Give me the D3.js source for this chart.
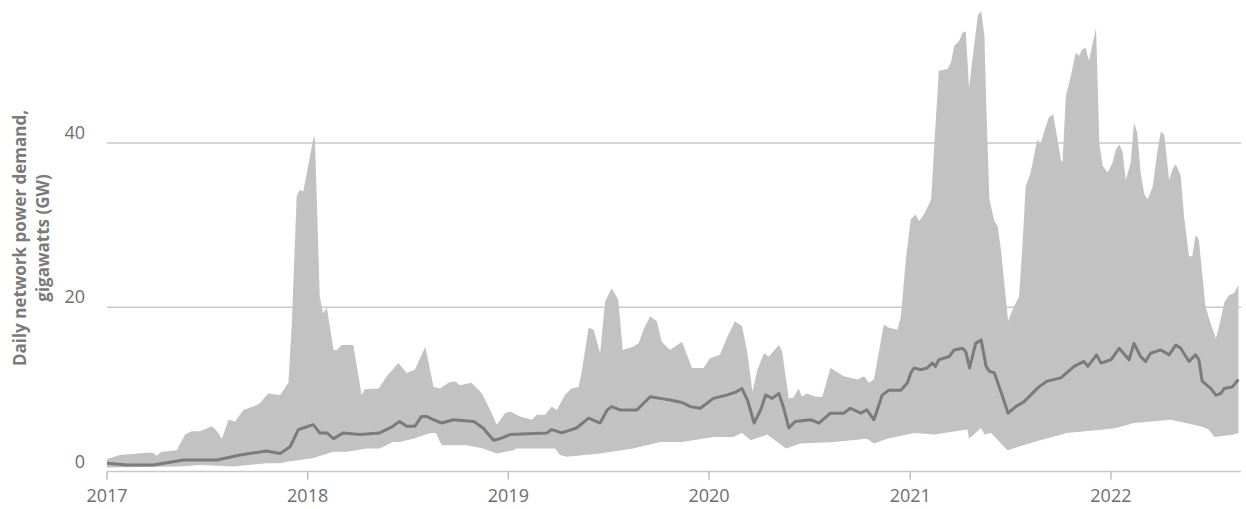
<!DOCTYPE html>
<html>
<head>
<meta charset="utf-8">
<script src="https://cdn.jsdelivr.net/npm/d3@7"></script>
<style>
  body { margin: 0; background: #fff; }
  svg { display: block; font-family: "Open Sans", sans-serif; }
</style>
</head>
<body>
<svg id="svg"></svg>
<script>
const width = 1246, height = 509;

// upper bound of the estimate, GW
const upperBound = [
  ["2017-01-01",1.5],["2017-01-24",2.0],["2017-03-20",2.3],["2017-03-29",2.2],["2017-04-01",1.9],
  ["2017-04-10",2.4],["2017-05-08",2.6],["2017-05-23",4.5],["2017-06-04",4.9],["2017-06-19",4.9],
  ["2017-07-11",5.5],["2017-07-20",4.9],["2017-07-29",4.0],["2017-08-10",6.3],["2017-08-22",6.1],
  ["2017-09-06",7.5],["2017-09-24",7.9],["2017-10-06",8.3],["2017-10-21",9.5],["2017-11-12",9.3],
  ["2017-11-27",10.8],["2017-12-03",17.7],["2017-12-12",33.5],["2017-12-18",34.3],["2017-12-24",34.1],
  ["2018-01-11",40.4],["2018-01-14",40.8],["2018-01-23",21.3],["2018-01-29",19.3],["2018-02-05",19.9],
  ["2018-02-17",14.8],["2018-02-23",14.8],["2018-03-04",15.4],["2018-03-25",15.4],["2018-04-09",9.3],
  ["2018-04-15",10.0],["2018-05-10",10.1],["2018-05-25",11.6],["2018-06-15",13.2],["2018-06-30",12.0],
  ["2018-07-15",12.4],["2018-08-03",15.2],["2018-08-18",10.3],["2018-08-30",10.1],["2018-09-14",10.8],
  ["2018-09-26",11.0],["2018-10-05",10.5],["2018-10-26",10.8],["2018-11-14",9.5],["2018-11-29",7.5],
  ["2018-12-11",5.7],["2018-12-26",7.1],["2019-01-04",7.3],["2019-01-22",6.7],["2019-02-13",6.3],
  ["2019-02-22",6.9],["2019-03-09",6.9],["2019-03-21",7.9],["2019-03-30",7.5],["2019-04-14",9.3],
  ["2019-04-26",10.1],["2019-05-09",10.3],["2019-05-15",12.4],["2019-05-27",17.5],["2019-06-05",17.3],
  ["2019-06-17",14.4],["2019-06-26",20.7],["2019-07-08",22.3],["2019-07-20",20.9],["2019-07-28",14.8],
  ["2019-08-16",15.2],["2019-08-26",15.6],["2019-09-04",17.3],["2019-09-16",18.9],["2019-09-28",18.3],
  ["2019-10-07",15.8],["2019-10-22",14.8],["2019-11-13",15.8],["2019-12-01",12.6],["2019-12-22",12.6],
  ["2020-01-03",13.8],["2020-01-21",14.2],["2020-02-02",16.2],["2020-02-17",18.3],["2020-03-01",17.7],
  ["2020-03-11",14.4],["2020-03-20",9.7],["2020-03-29",12.4],["2020-04-10",14.4],["2020-04-19",14.0],
  ["2020-05-07",15.4],["2020-05-13",14.6],["2020-05-25",8.9],["2020-06-03",9.0],["2020-06-12",10.1],
  ["2020-06-18",9.1],["2020-06-27",9.5],["2020-07-13",9.1],["2020-07-25",9.1],["2020-08-09",12.6],
  ["2020-09-02",11.6],["2020-09-27",11.2],["2020-10-09",11.6],["2020-10-18",10.8],["2020-10-27",11.2],
  ["2020-11-14",17.9],["2020-11-23",17.5],["2020-12-09",17.3],["2020-12-15",18.9],["2020-12-24",25.8],
  ["2021-01-02",30.7],["2021-01-11",31.3],["2021-01-17",30.5],["2021-01-26",31.3],["2021-02-08",33.1],
  ["2021-02-14",40.0],["2021-02-22",48.8],["2021-03-10",49.0],["2021-03-16",49.8],["2021-03-22",51.8],
  ["2021-03-31",52.4],["2021-04-06",53.4],["2021-04-12",53.6],["2021-04-18",46.7],["2021-04-27",51.8],
  ["2021-05-04",55.5],["2021-05-10",56.1],["2021-05-16",53.0],["2021-05-19",45.3],["2021-05-25",33.1],
  ["2021-06-03",30.5],["2021-06-09",29.9],["2021-06-15",27.0],["2021-06-21",23.0],["2021-06-28",18.3],
  ["2021-07-06",19.7],["2021-07-18",21.3],["2021-07-24",27.4],["2021-07-30",34.7],["2021-08-08",36.4],
  ["2021-08-20",40.4],["2021-08-26",40.0],["2021-09-01",41.2],["2021-09-10",43.1],["2021-09-18",43.5],
  ["2021-09-26",40.4],["2021-10-02",38.0],["2021-10-05",37.6],["2021-10-11",45.7],["2021-10-20",48.1],
  ["2021-10-29",51.0],["2021-11-04",50.6],["2021-11-10",51.4],["2021-11-16",51.6],["2021-11-22",50.0],
  ["2021-12-05",54.0],["2021-12-11",40.0],["2021-12-17",37.2],["2021-12-26",36.4],["2022-01-04",37.6],
  ["2022-01-10",39.2],["2022-01-16",39.8],["2022-01-22",39.0],["2022-01-28",35.5],["2022-02-06",37.6],
  ["2022-02-12",42.5],["2022-02-18",41.2],["2022-02-24",36.4],["2022-03-03",33.7],["2022-03-09",33.1],
  ["2022-03-18",34.7],["2022-03-27",39.2],["2022-04-02",41.4],["2022-04-08",41.0],["2022-04-17",35.5],
  ["2022-04-23",36.8],["2022-04-29",37.4],["2022-05-08",36.0],["2022-05-14",31.1],["2022-05-23",26.2],
  ["2022-05-29",26.2],["2022-06-04",28.8],["2022-06-10",28.2],["2022-06-16",24.2],["2022-06-22",20.1],
  ["2022-07-02",17.9],["2022-07-11",16.2],["2022-07-17",17.7],["2022-07-26",20.5],["2022-08-04",21.5],
  ["2022-08-13",21.7],["2022-08-21",22.7]
];

// lower bound of the estimate, GW
const lowerBound = [
  ["2017-01-01",0.5],["2017-05-14",0.6],["2017-06-19",0.8],["2017-08-18",0.6],["2017-10-18",1.0],
  ["2017-11-12",1.0],["2017-11-24",1.2],["2018-01-10",1.6],["2018-02-17",2.4],["2018-03-13",2.4],
  ["2018-04-18",2.8],["2018-05-12",2.8],["2018-06-05",3.6],["2018-06-17",3.6],["2018-07-12",4.0],
  ["2018-08-12",4.7],["2018-08-22",4.7],["2018-09-02",3.2],["2018-10-17",3.2],["2018-11-16",2.8],
  ["2018-12-11",2.2],["2019-01-10",2.6],["2019-01-16",2.8],["2019-03-27",2.8],["2019-04-05",2.0],
  ["2019-04-17",1.8],["2019-06-17",2.2],["2019-08-16",2.8],["2019-10-04",3.6],["2019-11-13",3.6],
  ["2020-01-09",4.2],["2020-02-14",4.2],["2020-03-01",4.7],["2020-03-17",3.8],["2020-04-16",4.5],
  ["2020-05-20",2.8],["2020-06-15",3.4],["2020-08-15",3.6],["2020-10-14",4.0],["2020-10-27",3.4],
  ["2020-11-20",4.0],["2021-01-08",4.7],["2021-02-14",4.5],["2021-04-15",5.1],["2021-04-18",4.0],
  ["2021-05-10",5.3],["2021-05-16",4.5],["2021-05-28",4.7],["2021-06-27",2.6],["2021-08-14",3.6],
  ["2021-10-13",4.7],["2021-12-19",5.1],["2022-01-10",5.3],["2022-02-12",5.9],["2022-04-20",6.3],
  ["2022-06-13",5.5],["2022-06-28",5.1],["2022-07-08",4.2],["2022-08-13",4.5],["2022-08-21",4.7]
];

// central estimate, GW
const centralEstimate = [
  ["2017-01-01",1.0],["2017-02-06",0.8],["2017-03-26",0.8],["2017-05-20",1.4],["2017-07-20",1.4],
  ["2017-08-31",2.0],["2017-10-18",2.5],["2017-11-12",2.2],["2017-11-30",3.0],["2017-12-15",5.1],
  ["2017-12-24",5.3],["2018-01-11",5.7],["2018-01-23",4.7],["2018-02-05",4.7],["2018-02-17",4.0],
  ["2018-03-07",4.7],["2018-04-06",4.5],["2018-05-12",4.7],["2018-06-05",5.5],["2018-06-17",6.1],
  ["2018-06-30",5.5],["2018-07-15",5.5],["2018-07-27",6.7],["2018-08-05",6.7],["2018-08-18",6.3],
  ["2018-09-02",5.9],["2018-09-23",6.3],["2018-10-30",6.1],["2018-11-16",5.3],["2018-12-05",3.8],
  ["2018-12-17",4.0],["2019-01-04",4.5],["2019-03-12",4.7],["2019-03-21",5.1],["2019-04-08",4.7],
  ["2019-05-05",5.3],["2019-05-27",6.5],["2019-06-17",5.9],["2019-06-30",7.5],["2019-07-08",7.9],
  ["2019-07-23",7.5],["2019-08-23",7.5],["2019-09-16",9.1],["2019-10-04",8.9],["2019-10-22",8.7],
  ["2019-11-13",8.4],["2019-11-28",7.9],["2019-12-16",7.7],["2020-01-09",8.9],["2020-02-02",9.3],
  ["2020-02-20",9.7],["2020-03-01",10.1],["2020-03-11",8.7],["2020-03-23",5.9],["2020-04-04",7.5],
  ["2020-04-13",9.3],["2020-04-25",8.9],["2020-05-07",9.5],["2020-05-16",7.7],["2020-05-25",5.3],
  ["2020-06-06",6.1],["2020-07-04",6.3],["2020-07-19",5.9],["2020-08-09",7.1],["2020-09-02",7.1],
  ["2020-09-14",7.7],["2020-10-03",7.1],["2020-10-14",7.5],["2020-10-27",6.3],["2020-11-11",9.3],
  ["2020-11-23",9.9],["2020-12-15",9.9],["2020-12-27",10.8],["2021-01-02",12.0],["2021-01-08",12.6],
  ["2021-01-20",12.4],["2021-02-01",12.6],["2021-02-10",13.2],["2021-02-16",12.8],["2021-02-22",13.6],
  ["2021-03-13",14.0],["2021-03-22",14.8],["2021-04-06",15.0],["2021-04-12",14.6],["2021-04-19",12.6],
  ["2021-04-30",15.6],["2021-05-10",16.0],["2021-05-19",12.8],["2021-05-25",12.2],["2021-06-03",12.0],
  ["2021-06-15",9.7],["2021-06-28",7.1],["2021-07-12",7.9],["2021-07-27",8.5],["2021-08-08",9.3],
  ["2021-08-23",10.3],["2021-09-07",11.0],["2021-10-02",11.4],["2021-10-26",12.8],["2021-11-13",13.4],
  ["2021-11-20",12.8],["2021-12-06",14.2],["2021-12-14",13.2],["2022-01-01",13.6],["2022-01-16",15.0],
  ["2022-02-03",13.6],["2022-02-12",15.6],["2022-02-24",14.0],["2022-03-05",13.4],["2022-03-14",14.4],
  ["2022-04-02",14.8],["2022-04-17",14.2],["2022-04-29",15.4],["2022-05-08",15.0],["2022-05-23",13.4],
  ["2022-06-04",14.2],["2022-06-10",13.6],["2022-06-16",11.0],["2022-07-02",10.1],["2022-07-11",9.3],
  ["2022-07-20",9.5],["2022-07-26",10.1],["2022-08-10",10.3],["2022-08-21",11.2]
];

const yTicks = [0, 20, 40];
const yearTicks = ["2017", "2018", "2019", "2020", "2021", "2022"];
const yTitle = ["Daily network power demand,", "gigawatts (GW)"];

const parseDate = d3.timeParse("%Y-%m-%d");
const toPoints = arr => arr.map(([d, v]) => ({ date: parseDate(d), value: v }));
const upper = toPoints(upperBound);
const lower = toPoints(lowerBound);
const central = toPoints(centralEstimate);

const margin = {top: 0, right: 7, bottom: 37.5, left: 107};

const x = d3.scaleTime()
    .domain([parseDate("2017-01-01"), parseDate("2022-08-22")])
    .range([margin.left, width - margin.right]);

const y = d3.scaleLinear()
    .domain([0, 57.4])
    .range([height - margin.bottom, margin.top]);

const svg = d3.select("#svg")
    .attr("width", width)
    .attr("height", height);

// gridlines
svg.append("g")
    .selectAll("line")
    .data(yTicks)
    .join("line")
    .attr("x1", margin.left)
    .attr("x2", width - margin.right + 2)
    .attr("y1", d => y(d))
    .attr("y2", d => y(d))
    .attr("stroke", "#c9c9c9")
    .attr("stroke-width", 1.6);

// y labels, sitting just above their gridline
svg.append("g")
    .selectAll("text")
    .data(yTicks)
    .join("text")
    .attr("x", 85)
    .attr("y", d => y(d) - 4)
    .attr("text-anchor", "end")
    .attr("fill", "#6e6e6e")
    .attr("font-size", 18)
    .text(d => d);

// band between lower and upper bounds
const edge = d3.line()
    .x(d => x(d.date))
    .y(d => y(d.value));

svg.append("path")
    .attr("d", edge(upper.concat(lower.slice().reverse())) + "Z")
    .attr("fill", "#c2c2c2");

// central estimate
svg.append("path")
    .datum(central)
    .attr("d", edge)
    .attr("fill", "none")
    .attr("stroke", "#7b7b7b")
    .attr("stroke-width", 3)
    .attr("stroke-linejoin", "round");

// x axis ticks and labels
const xAxis = svg.append("g");
xAxis.selectAll("line")
    .data(yearTicks)
    .join("line")
    .attr("x1", d => x(parseDate(d + "-01-01")))
    .attr("x2", d => x(parseDate(d + "-01-01")))
    .attr("y1", y(0))
    .attr("y2", y(0) + 8)
    .attr("stroke", "#bdbdbd")
    .attr("stroke-width", 1.5);

xAxis.selectAll("text")
    .data(yearTicks)
    .join("text")
    .attr("x", d => x(parseDate(d + "-01-01")))
    .attr("y", y(0) + 30)
    .attr("text-anchor", "middle")
    .attr("fill", "#6e6e6e")
    .attr("font-size", 18)
    .text(d => d);

// y axis title
svg.append("text")
    .attr("transform", "translate(26, 238) rotate(-90)")
    .attr("text-anchor", "middle")
    .attr("fill", "#7a7a7a")
    .attr("font-size", 17)
    .attr("font-weight", "bold")
    .selectAll("tspan")
    .data(yTitle)
    .join("tspan")
    .attr("x", 0)
    .attr("dy", (d, i) => i === 0 ? 0 : 23)
    .text(d => d);
</script>
</body>
</html>
